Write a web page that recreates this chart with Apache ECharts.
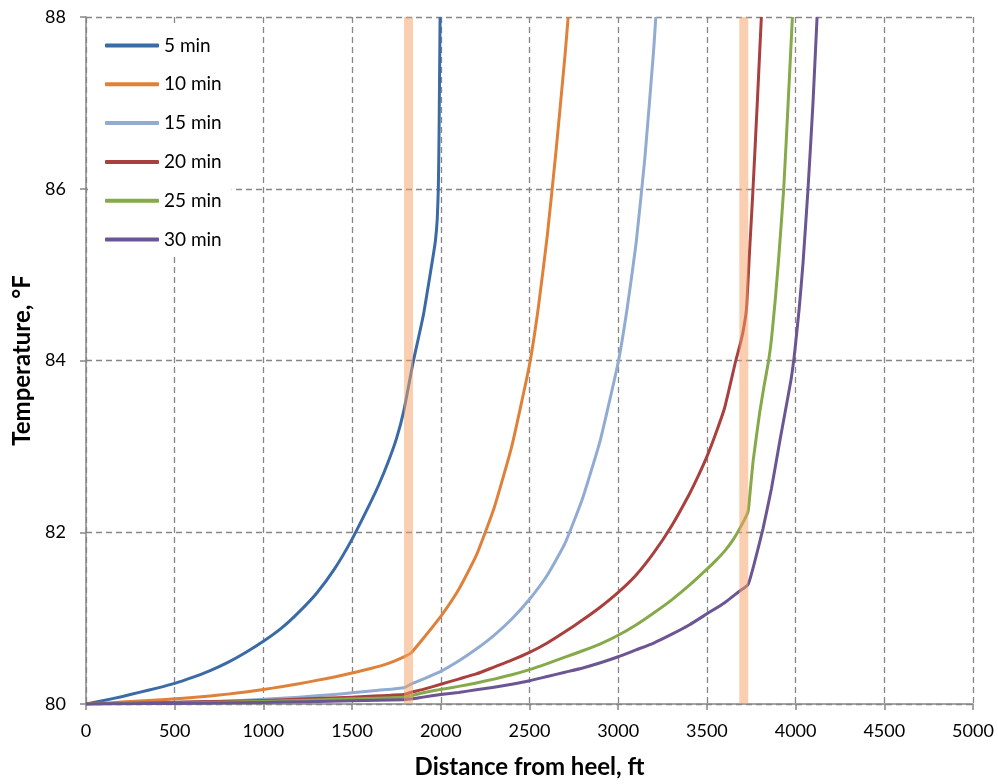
<!DOCTYPE html>
<html>
<head>
<meta charset="utf-8">
<script src="https://cdn.jsdelivr.net/npm/echarts@6/dist/echarts.min.js"></script>
<style>
  html, body { margin: 0; padding: 0; background: #ffffff; }
  #chart { width: 998px; height: 784px; }
</style>
</head>
<body>
<div id="chart"></div>
<script>
// Temperature profiles along the lateral at successive times: [distance ft, temperature °F]
const seriesNames = ['5 min', '10 min', '15 min', '20 min', '25 min', '30 min'];

const profile5 = [
  [0, 80], [100, 80.04], [200, 80.085], [300, 80.135], [400, 80.185], [500, 80.24],
  [600, 80.31], [700, 80.39], [800, 80.485], [900, 80.6], [1000, 80.73], [1100, 80.88],
  [1200, 81.07], [1300, 81.29], [1400, 81.57], [1500, 81.92], [1600, 82.33], [1650, 82.55],
  [1700, 82.8], [1750, 83.09], [1792, 83.42], [1844, 83.98], [1901, 84.52], [1957, 85.22],
  [1970, 85.4], [1980, 85.65], [1986, 86.0], [1990, 86.6], [1993, 87.3], [1996, 88]
];
const profile10 = [
  [0, 80], [100, 80.01], [200, 80.022], [300, 80.034], [400, 80.047], [500, 80.06],
  [600, 80.075], [700, 80.094], [800, 80.115], [900, 80.14], [1000, 80.17], [1100, 80.2],
  [1200, 80.235], [1300, 80.275], [1400, 80.315], [1500, 80.36], [1600, 80.41], [1700, 80.47],
  [1792, 80.55], [1835, 80.6], [1900, 80.76], [2000, 81.02], [2100, 81.33], [2200, 81.73],
  [2300, 82.28], [2400, 83.0], [2500, 83.95], [2550, 84.62], [2600, 85.45], [2650, 86.45],
  [2700, 87.55], [2718, 88]
];
const profile15 = [
  [0, 80], [200, 80.005], [400, 80.012], [600, 80.022], [800, 80.035], [1000, 80.055],
  [1200, 80.08], [1400, 80.11], [1500, 80.13], [1650, 80.16], [1792, 80.19], [1840, 80.24],
  [1900, 80.29], [2000, 80.38], [2100, 80.5], [2200, 80.64], [2300, 80.8], [2400, 80.99],
  [2500, 81.22], [2600, 81.5], [2700, 81.87], [2800, 82.4], [2900, 83.08], [3000, 83.98],
  [3050, 84.6], [3100, 85.35], [3150, 86.35], [3200, 87.62], [3212, 88]
];
const profile20 = [
  [0, 80], [250, 80.01], [500, 80.02], [750, 80.03], [1000, 80.04], [1250, 80.06],
  [1500, 80.08], [1792, 80.11], [1840, 80.14], [1900, 80.17], [2000, 80.23], [2100, 80.29],
  [2200, 80.35], [2300, 80.43], [2400, 80.51], [2500, 80.6], [2600, 80.71], [2700, 80.84],
  [2800, 80.98], [2900, 81.13], [3000, 81.3], [3100, 81.5], [3200, 81.76], [3300, 82.07],
  [3400, 82.44], [3450, 82.65], [3500, 82.88], [3550, 83.15], [3600, 83.45], [3663, 84.0],
  [3685, 84.17], [3705, 84.35], [3723, 84.6], [3741, 85.29], [3760, 86.0], [3784, 87.0],
  [3807, 88]
];
const profile25 = [
  [0, 80], [250, 80.005], [500, 80.01], [750, 80.02], [1000, 80.03], [1250, 80.045],
  [1500, 80.06], [1792, 80.08], [1840, 80.1], [1900, 80.13], [2000, 80.17], [2100, 80.205],
  [2200, 80.245], [2300, 80.29], [2400, 80.34], [2500, 80.4], [2600, 80.47], [2700, 80.545],
  [2800, 80.62], [2900, 80.7], [3000, 80.8], [3100, 80.92], [3200, 81.06], [3300, 81.21],
  [3400, 81.38], [3500, 81.57], [3550, 81.67], [3600, 81.78], [3650, 81.92], [3700, 82.1],
  [3732, 82.24], [3745, 82.5], [3760, 82.82], [3778, 83.1], [3798, 83.4], [3822, 83.7],
  [3848, 84.0], [3864, 84.25], [3885, 84.7], [3905, 85.2], [3933, 86.0], [3958, 87.0],
  [3982, 88]
];
const profile30 = [
  [0, 80], [250, 80.003], [500, 80.007], [750, 80.012], [1000, 80.018], [1250, 80.027],
  [1500, 80.037], [1792, 80.05], [1840, 80.06], [1900, 80.08], [2000, 80.11], [2100, 80.135],
  [2200, 80.165], [2300, 80.195], [2400, 80.23], [2500, 80.27], [2600, 80.32], [2700, 80.37],
  [2800, 80.42], [2900, 80.48], [3000, 80.55], [3100, 80.63], [3200, 80.71], [3300, 80.81],
  [3400, 80.92], [3500, 81.05], [3600, 81.18], [3681, 81.31], [3732, 81.39], [3770, 81.66],
  [3816, 82.04], [3864, 82.51], [3910, 83.05], [3950, 83.5], [3976, 83.8], [3995, 84.1],
  [4020, 84.6], [4042, 85.14], [4070, 86.0], [4098, 87.0], [4121, 88]
];
const profiles = [profile5, profile10, profile15, profile20, profile25, profile30];

// Locations of the two marked zones along the well, ft
const zoneDistances = [1818, 3708];

// Axis ranges and tick spacing
const xTicks = [0, 500, 1000, 1500, 2000, 2500, 3000, 3500, 4000, 4500, 5000];
const yTicks = [80, 82, 84, 86, 88];

const colors = ['#3A6BA6', '#E0813A', '#91ABD3', '#A9403E', '#86A94A', '#6C5593'];

const gridGray = '#868686';
const fontFamily = 'Lato, "Noto Sans", sans-serif';

const lineSeries = profiles.map((data, i) => ({
  name: seriesNames[i],
  type: 'line',
  data: data,
  showSymbol: false,
  symbol: 'none',
  smooth: 0.15,
  lineStyle: { width: 3, color: colors[i], join: 'round' },
  itemStyle: { color: colors[i] },
  z: 2
}));

const zoneSeries = zoneDistances.map((d, i) => ({
  name: 'zone' + i,
  type: 'line',
  data: [[d, yTicks[0]], [d, yTicks[yTicks.length - 1]]],
  showSymbol: false,
  symbol: 'none',
  silent: true,
  lineStyle: { width: 9, color: 'rgba(245,160,100,0.5)', cap: 'butt' },
  z: 3
}));

const chart = echarts.init(document.getElementById('chart'), null, { renderer: 'canvas' });

chart.setOption({
  animation: false,
  backgroundColor: '#ffffff',
  grid: { left: 86, right: 25, top: 17, bottom: 78, containLabel: false },
  legend: {
    data: seriesNames,
    orient: 'vertical',
    left: 88,
    top: 25,
    padding: [11, 10, 8, 17],
    backgroundColor: '#ffffff',
    itemWidth: 54,
    itemHeight: 4,
    itemGap: 19.8,
    icon: 'roundRect',
    textStyle: { fontFamily: fontFamily, fontSize: 19, color: '#000' },
    z: 4
  },
  xAxis: {
    type: 'value',
    min: xTicks[0],
    max: xTicks[xTicks.length - 1],
    interval: xTicks[1] - xTicks[0],
    name: 'Distance from heel, ft',
    nameLocation: 'middle',
    nameGap: 51,
    nameTextStyle: { fontFamily: fontFamily, fontSize: 24, fontWeight: 'bold', color: '#000' },
    axisLine: { show: true, lineStyle: { color: gridGray, width: 1.5 } },
    axisTick: { show: true, length: 6, lineStyle: { color: gridGray, width: 1.5 } },
    axisLabel: {
      fontFamily: fontFamily, fontSize: 18, color: '#000', margin: 18,
      formatter: (v) => String(v)
    },
    splitLine: { show: true, lineStyle: { color: gridGray, width: 1.3, type: [6, 4] } }
  },
  yAxis: {
    type: 'value',
    min: yTicks[0],
    max: yTicks[yTicks.length - 1],
    interval: yTicks[1] - yTicks[0],
    name: 'Temperature, °F',
    nameLocation: 'middle',
    nameGap: 46,
    nameTextStyle: { fontFamily: fontFamily, fontSize: 24, fontWeight: 'bold', color: '#000' },
    axisLine: { show: true, lineStyle: { color: gridGray, width: 1.5 } },
    axisTick: { show: true, length: 6, lineStyle: { color: gridGray, width: 1.5 } },
    axisLabel: { fontFamily: fontFamily, fontSize: 18, color: '#000', margin: 20 },
    splitLine: { show: true, lineStyle: { color: gridGray, width: 1.3, type: [6, 4] } }
  },
  series: lineSeries.concat(zoneSeries)
});
</script>
</body>
</html>
